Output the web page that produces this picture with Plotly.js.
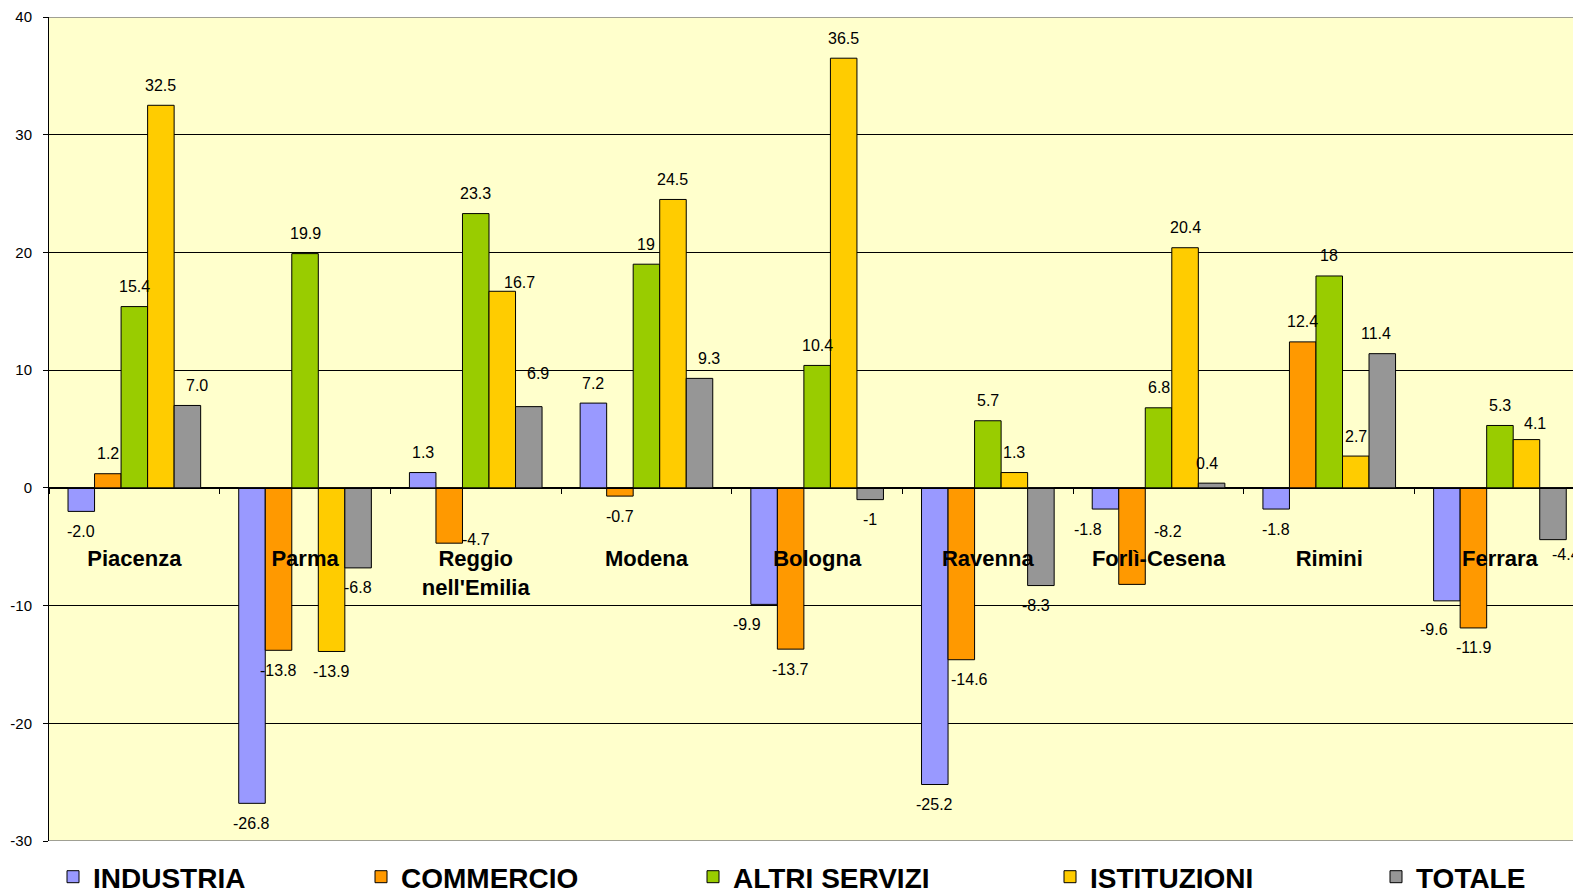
<!DOCTYPE html>
<html>
<head>
<meta charset="utf-8">
<script src="https://cdn.plot.ly/plotly-3.0.1.min.js"></script>
<style>html,body{margin:0;padding:0;background:#fff;overflow:hidden}</style>
</head>
<body>
<div id="chart" style="width:1573px;height:895px"></div>
<script>
// ---- data ----
const categories = ['Piacenza', 'Parma', "Reggio<br>nell'Emilia", 'Modena', 'Bologna', 'Ravenna', 'Forlì-Cesena', 'Rimini', 'Ferrara'];
const seriesNames = ['INDUSTRIA', 'COMMERCIO', 'ALTRI SERVIZI', 'ISTITUZIONI', 'TOTALE'];
const industria    = [-2.0, -26.8, 1.3, 7.2, -9.9, -25.2, -1.8, -1.8, -9.6];
const commercio    = [1.2, -13.8, -4.7, -0.7, -13.7, -14.6, -8.2, 12.4, -11.9];
const altriServizi = [15.4, 19.9, 23.3, 19, 10.4, 5.7, 6.8, 18, 5.3];
const istituzioni  = [32.5, -13.9, 16.7, 24.5, 36.5, 1.3, 20.4, 2.7, 4.1];
const totale       = [7.0, -6.8, 6.9, 9.3, -1, -8.3, 0.4, 11.4, -4.4];
const industriaLabels    = ['-2.0', '-26.8', '1.3', '7.2', '-9.9', '-25.2', '-1.8', '-1.8', '-9.6'];
const commercioLabels    = ['1.2', '-13.8', '-4.7', '-0.7', '-13.7', '-14.6', '-8.2', '12.4', '-11.9'];
const altriServiziLabels = ['15.4', '19.9', '23.3', '19', '10.4', '5.7', '6.8', '18', '5.3'];
const istituzioniLabels  = ['32.5', '-13.9', '16.7', '24.5', '36.5', '1.3', '20.4', '2.7', '4.1'];
const totaleLabels       = ['7.0', '-6.8', '6.9', '9.3', '-1', '-8.3', '0.4', '11.4', '-4.4'];
const yTicks = [-30, -20, -10, 0, 10, 20, 30, 40];

// ---- styling ----
const colors = ['#9999FF', '#FF9900', '#99CC00', '#FFCC00', '#969696'];
const FONT = 'Arial, "Liberation Sans", sans-serif';
const W = 1573, H = 895;
const M = {l: 49, r: 0, t: 17, b: 54};
const plotW = W - M.l - M.r, plotH = H - M.t - M.b;
const xRange = [-0.5, 8.428];
const bargap = 0.223;
const barPx = plotW / (xRange[1] - xRange[0]) * (1 - bargap) / 5;

// manual label nudges (px, dy positive = down) as placed in the reference
const labelNudges = {
  '4,0': [10, 0], '1,2': [27, -24], '3,2': [17, 11], '4,2': [9, -13],
  '4,3': [9, 0], '0,4': [-17, 0], '1,5': [8, 0], '4,5': [-5, 0],
  '0,6': [-17, 0], '1,6': [36, -73], '4,6': [-5, 0], '4,7': [-6, 0],
  '0,8': [-13, 9], '3,8': [9, 4], '4,8': [13, -5]
};
// legend entry left edges in px
const legendLeft = [53, 361, 693, 1050, 1376];
const legendIds = ['legend', 'legend2', 'legend3', 'legend4', 'legend5'];

const allValues = [industria, commercio, altriServizi, istituzioni, totale];
const allLabels = [industriaLabels, commercioLabels, altriServiziLabels, istituzioniLabels, totaleLabels];

const traces = allValues.map((vals, i) => ({
  type: 'bar',
  x: categories,
  y: vals,
  name: seriesNames[i],
  legend: legendIds[i],
  marker: {color: colors[i], line: {color: '#000', width: 1}},
  hoverinfo: 'skip'
}));

const annotations = [];
allValues.forEach((vals, i) => {
  vals.forEach((v, j) => {
    const n = labelNudges[i + ',' + j] || [0, 0];
    annotations.push({
      xref: 'x', yref: 'y', x: categories[j], y: v,
      text: allLabels[i][j], showarrow: false,
      xanchor: 'center', yanchor: 'middle',
      xshift: (i - 2) * barPx + n[0],
      yshift: (v >= 0 ? 20 : -20) - n[1],
      font: {family: FONT, size: 16, color: '#000'}
    });
  });
});

const layout = {
  width: W, height: H,
  margin: {l: M.l, r: M.r, t: M.t, b: M.b, pad: 0, autoexpand: false},
  paper_bgcolor: '#FFFFFF',
  plot_bgcolor: '#FFFFCC',
  barmode: 'group', bargap: bargap, bargroupgap: 0,
  font: {family: FONT, color: '#000'},
  xaxis: {
    type: 'category', range: xRange,
    anchor: 'free', position: 30 / 70,
    showline: true, linecolor: '#000', linewidth: 1,
    ticks: 'outside', tickson: 'boundaries', ticklen: 5, tickcolor: '#000', tickwidth: 1,
    showgrid: false, zeroline: false, tickangle: 0,
    ticklabelstandoff: 51,
    tickfont: {family: FONT, size: 22, color: '#000', weight: 'bold'},
    fixedrange: true
  },
  yaxis: {
    range: [-30, 40], tickvals: yTicks, ticktext: yTicks.map(String),
    ticks: 'outside', ticklen: 5, tickcolor: '#000', tickwidth: 1,
    showline: true, linecolor: '#000', linewidth: 1,
    showgrid: true, gridcolor: '#000', gridwidth: 1,
    zeroline: false, ticklabelstandoff: 8,
    tickfont: {family: FONT, size: 15, color: '#000'},
    fixedrange: true
  },
  shapes: [
    {type: 'line', xref: 'paper', yref: 'y', x0: 0, x1: 1, y0: 40, y1: 40, line: {color: '#808080', width: 1.5}, layer: 'above'},
    {type: 'line', xref: 'paper', yref: 'y', x0: 0, x1: 1, y0: -30, y1: -30, line: {color: '#808080', width: 1.5}, layer: 'above'}
  ],
  annotations: annotations
};

legendIds.forEach((id, i) => {
  layout[id] = {
    xref: 'container', yref: 'container',
    x: legendLeft[i] / W, xanchor: 'left',
    y: (H - 877) / H, yanchor: 'middle',
    orientation: 'h', bgcolor: 'rgba(0,0,0,0)', borderwidth: 0,
    font: {family: FONT, size: 28, color: '#000', weight: 'bold'}
  };
});
layout.showlegend = true;

Plotly.newPlot('chart', traces, layout, {displayModeBar: false, staticPlot: true});
</script>
</body>
</html>
